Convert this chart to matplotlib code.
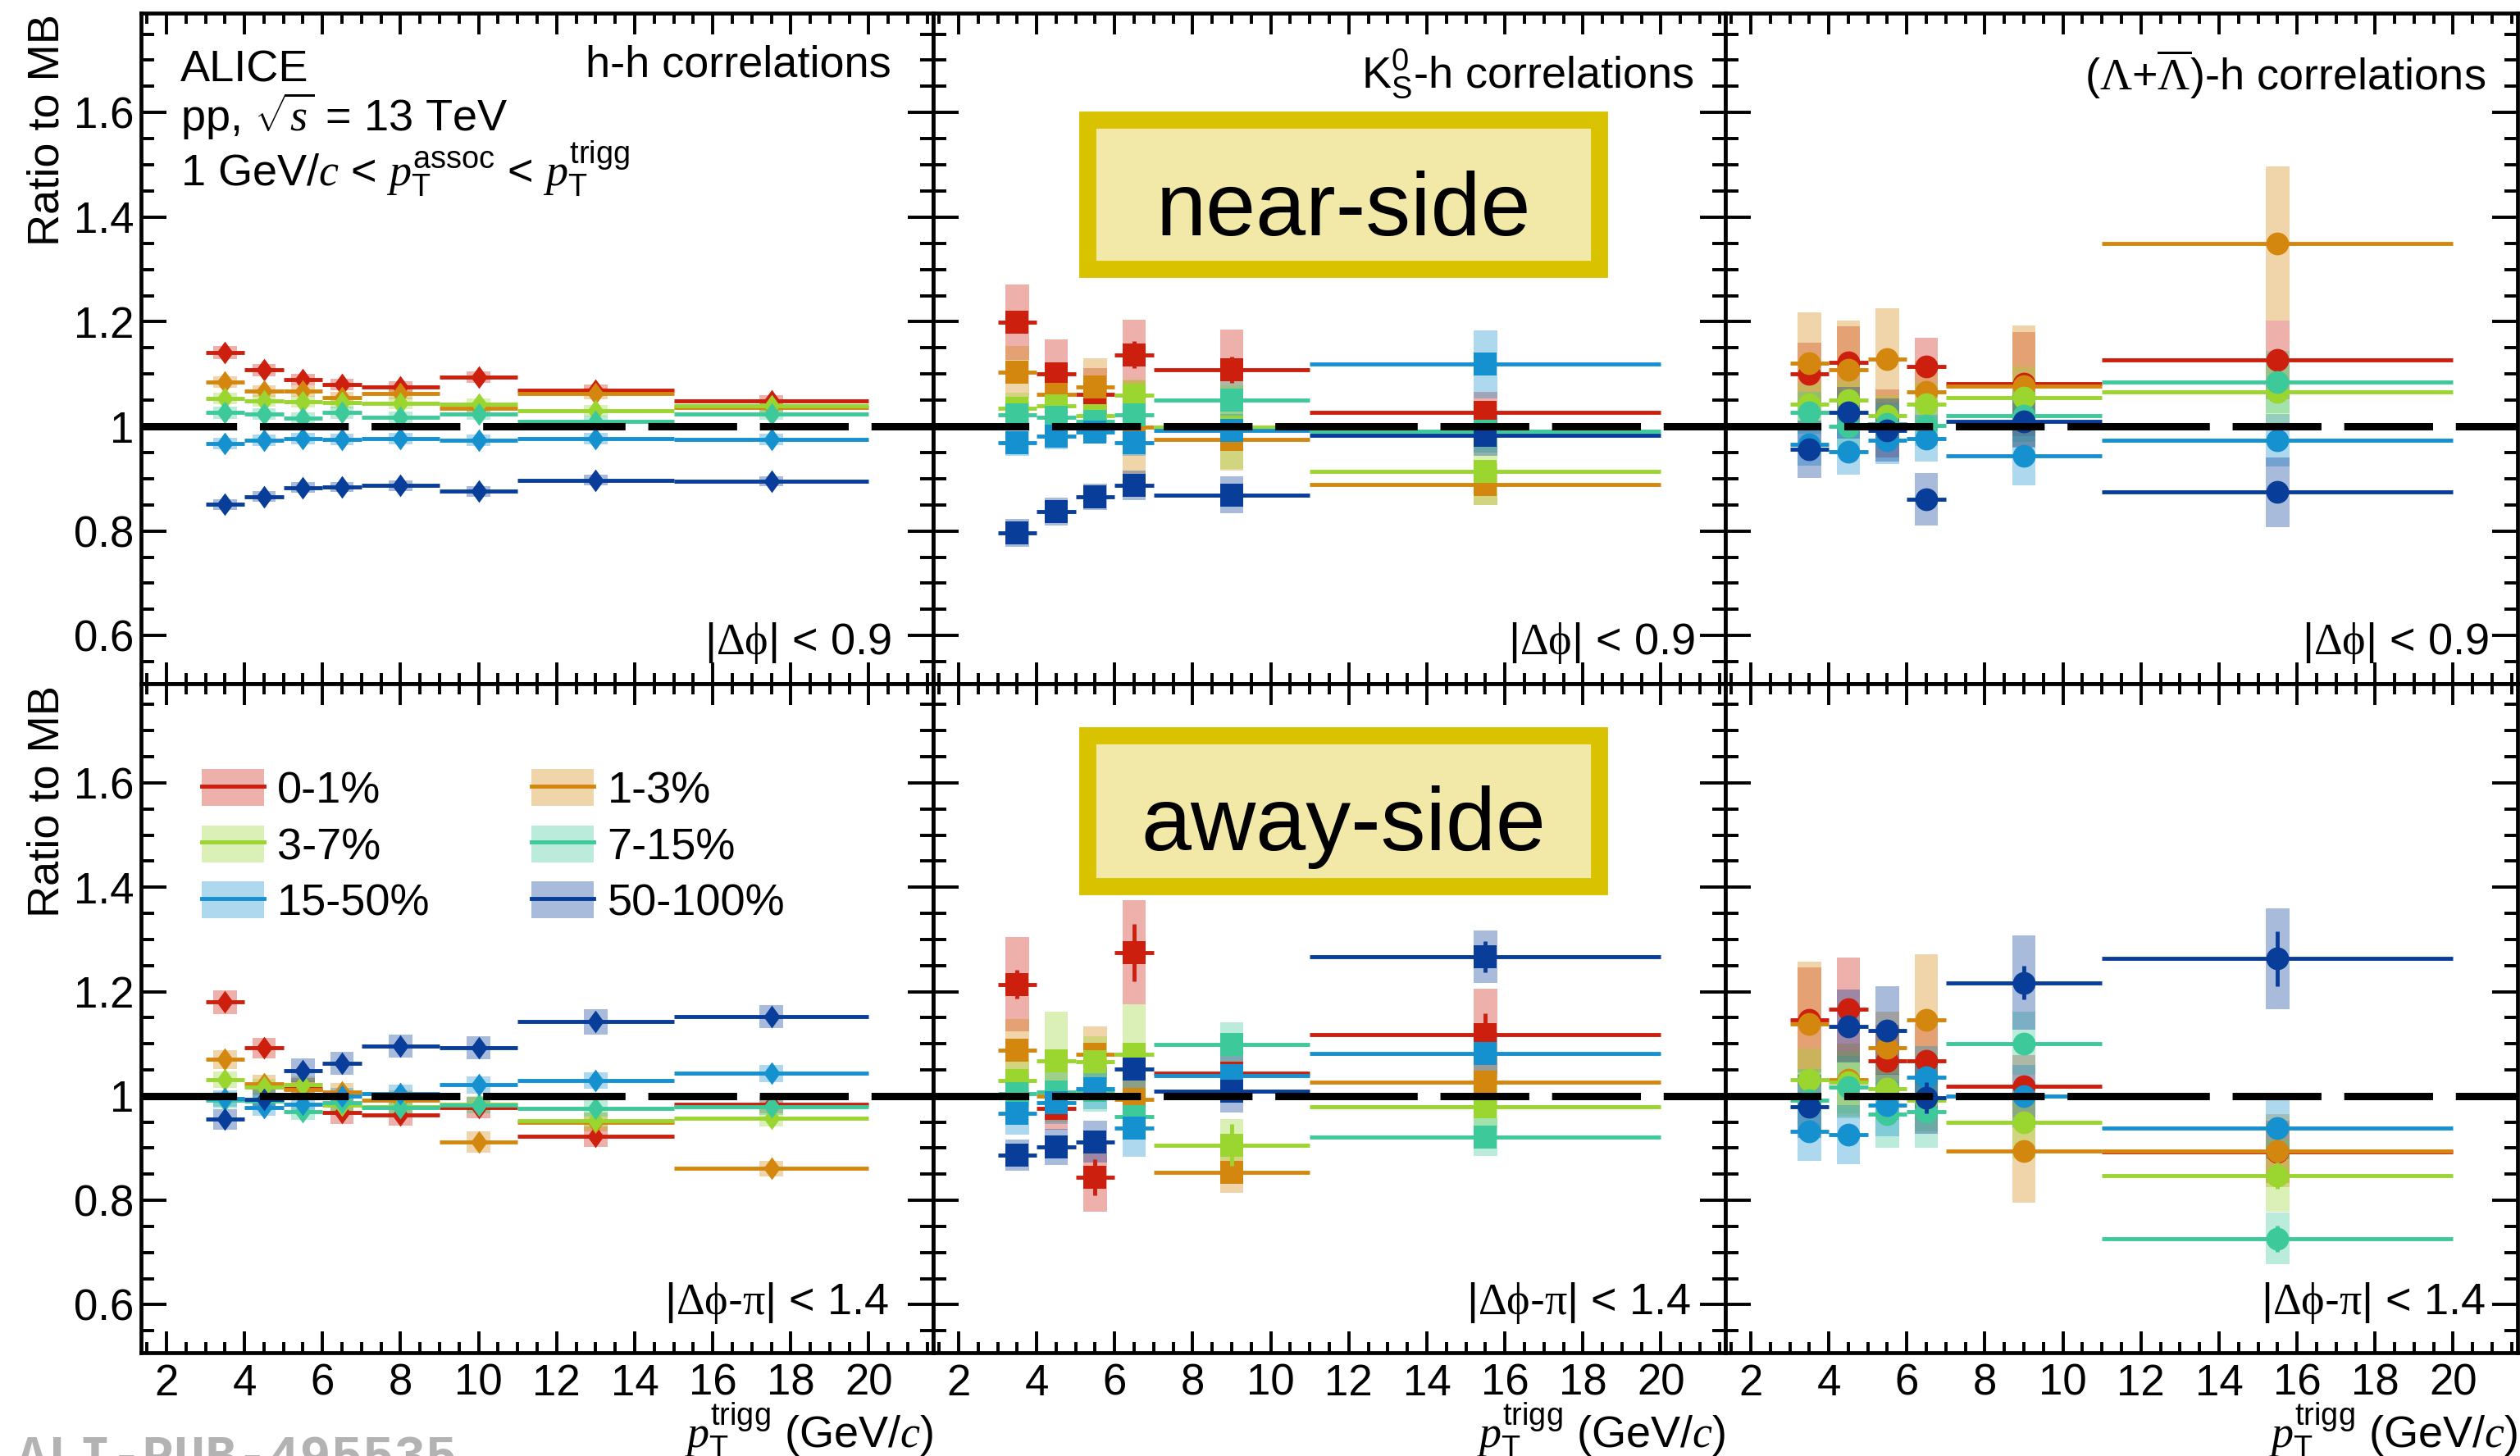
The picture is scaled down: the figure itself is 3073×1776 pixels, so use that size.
import matplotlib
matplotlib.use("Agg")
import numpy as np
import matplotlib.pyplot as plt
from matplotlib.patches import Rectangle, Patch
from matplotlib.lines import Line2D
from matplotlib.legend_handler import HandlerTuple
from matplotlib.ticker import MultipleLocator, FuncFormatter

plt.rcParams.update({
    "font.family": ["Liberation Sans", "DejaVu Sans"],
    "mathtext.fontset": "custom",
    "mathtext.rm": "Liberation Sans",
    "mathtext.it": "Liberation Serif:italic",
    "mathtext.sf": "Liberation Serif",
    "mathtext.bf": "Liberation Sans:bold",
    "lines.scale_dashes": False,
})

# ---------------------------------------------------------------- data
centralities = ["0-1%", "1-3%", "3-7%", "7-15%", "15-50%", "50-100%"]
line_colors = ["#cc1f0e", "#d4870e", "#9ad530", "#3dc99a", "#1591d0", "#083d99"]

hh_edges = [3, 4, 5, 6, 7, 9, 11, 15, 20]
v0_edges = [3, 4, 5, 6, 7, 11, 20]

# h-h, near side
hh_near = [
    [1.141, 1.108, 1.089, 1.080, 1.075, 1.094, 1.069, 1.049],
    [1.084, 1.067, 1.067, 1.055, 1.063, 1.034, 1.063, 1.036],
    [1.053, 1.049, 1.047, 1.045, 1.044, 1.043, 1.030, 1.040],
    [1.026, 1.024, 1.016, 1.026, 1.018, 1.024, 1.010, 1.024],
    [0.967, 0.973, 0.977, 0.975, 0.977, 0.973, 0.977, 0.975],
    [0.851, 0.866, 0.883, 0.884, 0.887, 0.876, 0.897, 0.895],
]
hh_near_syst = [
    [0.012, 0.012, 0.011, 0.011, 0.011, 0.011, 0.011, 0.011],
    [0.011, 0.011, 0.011, 0.011, 0.011, 0.011, 0.011, 0.011],
    [0.011, 0.011, 0.011, 0.011, 0.011, 0.011, 0.011, 0.011],
    [0.011, 0.011, 0.011, 0.011, 0.011, 0.011, 0.011, 0.011],
    [0.011, 0.011, 0.011, 0.011, 0.011, 0.011, 0.011, 0.011],
    [0.010, 0.010, 0.010, 0.010, 0.010, 0.010, 0.010, 0.010],
]
hh_near_stat = [
    [0.004, 0.004, 0.004, 0.004, 0.004, 0.005, 0.005, 0.006],
    [0.004, 0.004, 0.004, 0.004, 0.004, 0.005, 0.005, 0.006],
    [0.004, 0.004, 0.004, 0.004, 0.004, 0.005, 0.005, 0.006],
    [0.004, 0.004, 0.004, 0.004, 0.004, 0.005, 0.005, 0.006],
    [0.003, 0.003, 0.003, 0.003, 0.003, 0.004, 0.004, 0.005],
    [0.003, 0.003, 0.003, 0.003, 0.003, 0.004, 0.004, 0.005],
]

# h-h, away side
hh_away = [
    [1.180, 1.092, 1.014, 0.968, 0.963, 0.978, 0.922, 0.984],
    [1.070, 1.023, 1.012, 1.007, 0.992, 0.912, 0.950, 0.861],
    [1.031, 1.017, 1.021, 0.982, 0.980, 0.984, 0.953, 0.958],
    [0.992, 0.990, 0.970, 0.987, 0.978, 0.982, 0.976, 0.980],
    [0.995, 0.978, 0.984, 1.000, 1.005, 1.021, 1.030, 1.043],
    [0.955, 0.994, 1.049, 1.063, 1.095, 1.093, 1.142, 1.152],
]
hh_away_syst = [
    [0.023, 0.020, 0.020, 0.021, 0.020, 0.020, 0.020, 0.018],
    [0.018, 0.018, 0.018, 0.018, 0.018, 0.020, 0.018, 0.015],
    [0.016, 0.016, 0.016, 0.016, 0.016, 0.016, 0.016, 0.016],
    [0.016, 0.016, 0.016, 0.016, 0.016, 0.016, 0.016, 0.016],
    [0.016, 0.016, 0.016, 0.016, 0.016, 0.016, 0.016, 0.016],
    [0.020, 0.020, 0.023, 0.022, 0.022, 0.022, 0.025, 0.022],
]
hh_away_stat = [
    [0.006, 0.006, 0.006, 0.006, 0.006, 0.007, 0.008, 0.010],
    [0.006, 0.006, 0.006, 0.006, 0.006, 0.007, 0.008, 0.010],
    [0.006, 0.006, 0.006, 0.006, 0.006, 0.007, 0.008, 0.010],
    [0.006, 0.006, 0.006, 0.006, 0.006, 0.007, 0.008, 0.010],
    [0.005, 0.005, 0.005, 0.005, 0.005, 0.006, 0.007, 0.008],
    [0.005, 0.005, 0.005, 0.005, 0.005, 0.006, 0.007, 0.008],
]

# K0S-h, near side
k0s_near = [
    [1.199, 1.100, 1.062, 1.137, 1.108, 1.026],
    [1.103, 1.062, 1.075, 0.998, 0.975, 0.889],
    [1.035, 1.040, 1.020, 1.059, 0.998, 0.914],
    [1.022, 1.018, 1.010, 1.022, 1.050, 0.990],
    [0.969, 0.981, 0.989, 0.969, 0.993, 1.119],
    [0.796, 0.837, 0.866, 0.887, 0.869, 0.983],
]
k0s_near_syst = [
    [0.072, 0.066, 0.050, 0.067, 0.077, 0.040],
    [0.050, 0.040, 0.055, 0.090, 0.060, 0.040],
    [0.030, 0.030, 0.030, 0.030, 0.080, 0.065],
    [0.025, 0.025, 0.020, 0.025, 0.050, 0.040],
    [0.026, 0.025, 0.020, 0.026, 0.030, 0.065],
    [0.027, 0.027, 0.025, 0.028, 0.035, 0.040],
]
k0s_near_stat = [
    [0.015, 0.015, 0.015, 0.026, 0.025, 0.015],
    [0.010, 0.010, 0.010, 0.012, 0.012, 0.015],
    [0.010, 0.010, 0.010, 0.012, 0.012, 0.015],
    [0.010, 0.010, 0.010, 0.012, 0.012, 0.015],
    [0.008, 0.008, 0.008, 0.010, 0.010, 0.012],
    [0.008, 0.008, 0.008, 0.010, 0.010, 0.012],
]

# K0S-h, away side
k0s_away = [
    [1.214, 0.976, 0.844, 1.275, 1.044, 1.118],
    [1.087, 1.000, 1.080, 0.994, 0.854, 1.026],
    [1.030, 1.067, 1.065, 1.080, 0.906, 0.980],
    [1.004, 1.007, 1.010, 0.960, 1.098, 0.921],
    [0.966, 0.987, 1.014, 0.939, 1.039, 1.082],
    [0.887, 0.902, 0.912, 1.051, 1.009, 1.267],
]
k0s_away_syst = [
    [0.090, 0.040, 0.065, 0.100, 0.040, 0.087],
    [0.060, 0.050, 0.053, 0.050, 0.040, 0.050],
    [0.050, 0.095, 0.050, 0.095, 0.050, 0.050],
    [0.040, 0.040, 0.040, 0.040, 0.043, 0.036],
    [0.040, 0.040, 0.040, 0.055, 0.040, 0.040],
    [0.030, 0.035, 0.040, 0.040, 0.040, 0.050],
]
k0s_away_stat = [
    [0.028, 0.015, 0.035, 0.055, 0.020, 0.040],
    [0.015, 0.015, 0.015, 0.020, 0.020, 0.020],
    [0.015, 0.015, 0.015, 0.020, 0.040, 0.020],
    [0.015, 0.015, 0.015, 0.020, 0.020, 0.020],
    [0.012, 0.012, 0.012, 0.015, 0.015, 0.015],
    [0.012, 0.012, 0.012, 0.015, 0.020, 0.030],
]

# (Lambda+anti-Lambda)-h, near side
lam_near = [
    [1.100, 1.122, 1.005, 1.115, 1.081, 1.127],
    [1.121, 1.108, 1.129, 1.066, 1.077, 1.350],
    [1.043, 1.050, 1.020, 1.043, 1.055, 1.066],
    [1.026, 1.000, 1.005, 1.002, 1.020, 1.085],
    [0.965, 0.952, 0.973, 0.977, 0.944, 0.973],
    [0.956, 1.026, 0.993, 0.860, 1.010, 0.874],
]
lam_near_syst = [
    [0.060, 0.070, 0.065, 0.055, 0.100, 0.075],
    [0.097, 0.095, 0.097, 0.060, 0.116, 0.147],
    [0.040, 0.040, 0.040, 0.040, 0.060, 0.060],
    [0.040, 0.040, 0.040, 0.040, 0.050, 0.060],
    [0.040, 0.045, 0.045, 0.045, 0.057, 0.050],
    [0.055, 0.050, 0.060, 0.050, 0.050, 0.067],
]
lam_near_stat = [
    [0.015, 0.015, 0.015, 0.015, 0.015, 0.020],
    [0.015, 0.015, 0.015, 0.015, 0.015, 0.020],
    [0.015, 0.015, 0.015, 0.015, 0.015, 0.020],
    [0.015, 0.015, 0.015, 0.015, 0.015, 0.020],
    [0.012, 0.012, 0.012, 0.012, 0.012, 0.015],
    [0.012, 0.012, 0.012, 0.012, 0.012, 0.015],
]

# (Lambda+anti-Lambda)-h, away side
lam_away = [
    [1.146, 1.166, 1.067, 1.068, 1.019, 0.893],
    [1.138, 1.031, 1.092, 1.146, 0.895, 0.895],
    [1.031, 1.026, 1.014, 0.992, 0.950, 0.848],
    [0.992, 1.017, 0.965, 0.970, 1.101, 0.727],
    [0.932, 0.926, 0.982, 1.036, 1.000, 0.939],
    [0.980, 1.134, 1.126, 0.997, 1.217, 1.263],
]
lam_away_syst = [
    [0.100, 0.100, 0.070, 0.070, 0.060, 0.060],
    [0.120, 0.070, 0.070, 0.125, 0.100, 0.070],
    [0.060, 0.060, 0.060, 0.060, 0.070, 0.070],
    [0.060, 0.060, 0.065, 0.070, 0.060, 0.050],
    [0.057, 0.056, 0.060, 0.060, 0.060, 0.060],
    [0.060, 0.070, 0.085, 0.070, 0.090, 0.096],
]
lam_away_stat = [
    [0.020, 0.020, 0.020, 0.020, 0.020, 0.025],
    [0.020, 0.020, 0.020, 0.020, 0.020, 0.025],
    [0.020, 0.020, 0.020, 0.020, 0.020, 0.025],
    [0.020, 0.020, 0.020, 0.020, 0.020, 0.025],
    [0.015, 0.015, 0.015, 0.015, 0.015, 0.020],
    [0.015, 0.015, 0.015, 0.030, 0.032, 0.052],
]

y_ticks = [0.6, 0.8, 1.0, 1.2, 1.4, 1.6]

# ---------------------------------------------------------------- style
FS = 39
W, H = 3073, 1776
fig = plt.figure(figsize=(W / 100, H / 100), dpi=100)

PANEL_X0, PANEL_W = 172, 966
ROWS = {"top": (16, 834), "bottom": (834, 1650)}

# custom thin diamond (ROOT-like)
diamond = [(0, 1), (0.73, 0), (0, -1), (-0.73, 0), (0, 1)]
MARKERS = {"hh": (diamond, 20), "k0s": ("s", 20), "lam": ("o", 20)}

# dash pattern of the unity reference line (points)
DASH = [84, 20, 78, 20, 78, 20, 125, 20, 78, 20, 78, 20, 78, 20, 78, 20]


def make_axes(col, row):
    top, bot = ROWS[row]
    x0 = PANEL_X0 + col * PANEL_W
    return fig.add_axes([x0 / W, 1 - bot / H, PANEL_W / W, (bot - top) / H])


def style_axes(ax, show_x, show_y):
    ax.set_xlim(1.35, 21.65)
    ax.set_ylim(0.508, 1.79)
    ax.xaxis.set_major_locator(MultipleLocator(2))
    ax.xaxis.set_minor_locator(MultipleLocator(0.5))
    ax.set_yticks(y_ticks)
    ax.yaxis.set_minor_locator(MultipleLocator(0.05))
    ax.yaxis.set_major_formatter(FuncFormatter(lambda v, p: "%g" % round(v, 2)))
    ax.tick_params(which="both", direction="in", top=True, right=True,
                   width=2.8, labelsize=38)
    ax.tick_params(axis="y", which="major", length=22, pad=6)
    ax.tick_params(axis="y", which="minor", length=11.5)
    ax.tick_params(axis="x", which="major", length=19, pad=9)
    ax.tick_params(axis="x", which="minor", length=9.5)
    ax.tick_params(labelbottom=show_x, labelleft=show_y)
    for s in ax.spines.values():
        s.set_linewidth(3.4)


def draw_panel(ax, edges, vals, syst, stat, kind):
    edges = np.asarray(edges, dtype=float)
    xc = 0.5 * (edges[:-1] + edges[1:])
    half = 0.5 * (edges[1:] - edges[:-1])
    marker, ms = MARKERS[kind]
    for i, c in enumerate(line_colors):
        v = np.asarray(vals[i])
        s = np.asarray(syst[i])
        ax.bar(xc, 2 * s, bottom=v - s, width=0.6, color=c, alpha=0.35,
               linewidth=0, zorder=1)
    for i, c in enumerate(line_colors):
        ax.errorbar(xc, vals[i], xerr=half, yerr=stat[i], fmt="none",
                    ecolor=c, elinewidth=3.5, capsize=0, zorder=2 + i)
        ax.plot(xc, vals[i], linestyle="none", marker=marker, ms=ms,
                color=c, mew=0, zorder=2.5 + i)
    ax.axhline(1.0, color="black", lw=6.5, dashes=DASH, zorder=20)


panels = [
    ("top", 0, hh_edges, hh_near, hh_near_syst, hh_near_stat, "hh"),
    ("top", 1, v0_edges, k0s_near, k0s_near_syst, k0s_near_stat, "k0s"),
    ("top", 2, v0_edges, lam_near, lam_near_syst, lam_near_stat, "lam"),
    ("bottom", 0, hh_edges, hh_away, hh_away_syst, hh_away_stat, "hh"),
    ("bottom", 1, v0_edges, k0s_away, k0s_away_syst, k0s_away_stat, "k0s"),
    ("bottom", 2, v0_edges, lam_away, lam_away_syst, lam_away_stat, "lam"),
]

axes = {}
for row, col, edges, vals, syst, stat, kind in panels:
    ax = make_axes(col, row)
    style_axes(ax, show_x=(row == "bottom"), show_y=(col == 0))
    draw_panel(ax, edges, vals, syst, stat, kind)
    axes[(row, col)] = ax

# ---------------------------------------------------------------- texts
a = axes[("top", 0)]
a.text(0.0497, 0.8985, "ALICE", transform=a.transAxes, fontsize=FS, va="baseline")
a.text(0.0497, 0.824, r"pp, $\sqrt{s}$ = 13 TeV", transform=a.transAxes,
       fontsize=FS, va="baseline")
a.text(0.0497, 0.741,
       r"1 GeV/$c$ < $p_{\mathrm{T}}^{\mathrm{assoc}}$ < $p_{\mathrm{T}}^{\mathrm{trigg}}$",
       transform=a.transAxes, fontsize=FS, va="baseline")

titles = [
    (0, "h-h correlations", 0.947, 0.905),
    (1, r"$\mathrm{K}^{0}_{\mathrm{S}}$-h correlations", 0.9607, 0.889),
    (2, r"($\mathsf{\Lambda}$+$\overline{\mathsf{\Lambda}}$)-h correlations", 0.9596, 0.885),
]
for col, t, xr, yb in titles:
    ax = axes[("top", col)]
    ax.text(xr, yb, t, transform=ax.transAxes, fontsize=FS, ha="right", va="baseline")

near_x = [0.947, 0.961, 0.963]
away_x = [0.944, 0.9565, 0.9596]
for col in range(3):
    ax = axes[("top", col)]
    ax.text(near_x[col], 0.0445, r"|$\mathsf{\Delta\phi}$| < 0.9", transform=ax.transAxes,
            fontsize=FS, ha="right", va="baseline")
    ax = axes[("bottom", col)]
    ax.text(away_x[col], 0.058, r"|$\mathsf{\Delta\phi}$-$\mathsf{\pi}$| < 1.4",
            transform=ax.transAxes, fontsize=FS, ha="right", va="baseline")
    ax.text(1.0, -0.143, r"$p_{\mathrm{T}}^{\mathrm{trigg}}$ (GeV/$c$)",
            transform=ax.transAxes, fontsize=FS, ha="right", va="baseline")

for top in (17, 836):
    fig.text(57 / W, 1 - top / H, "Ratio to MB", rotation=90, fontsize=FS,
             ha="center", va="top")

# legend in the lower-left panel
order = [0, 2, 4, 1, 3, 5]
handles = [(Patch(facecolor=line_colors[i], alpha=0.35, linewidth=0),
            Line2D([], [], color=line_colors[i], lw=3.5)) for i in order]
labels = [centralities[i] for i in order]
axes[("bottom", 0)].legend(
    handles, labels, ncol=2, loc="upper left", bbox_to_anchor=(0.0763, 0.872),
    frameon=False, fontsize=FS, handlelength=1.4, handleheight=0.9,
    handletextpad=0.3, columnspacing=2.29, labelspacing=0.3, borderpad=0,
    borderaxespad=0, handler_map={tuple: HandlerTuple(ndivide=1)})

# highlighted region labels
for (y_top, y_bot, label, base) in [(136, 339, "near-side", 287),
                                    (887, 1091, "away-side", 1036.5)]:
    x_l, x_r = 1315 + 10.5, 1960 - 10.5
    yt, yb = y_top + 10.5, y_bot - 10.5
    fig.add_artist(Rectangle((x_l / W, 1 - yb / H), (x_r - x_l) / W, (yb - yt) / H,
                             transform=fig.transFigure, facecolor="#f2e9a8",
                             edgecolor="#d9c200", linewidth=15, zorder=30))
    fig.text(1638 / W, 1 - base / H, label, fontsize=79, ha="center",
             va="baseline", zorder=31)

fig.text(20 / W, 1 - 1796 / H, "ALI-PUB-495535", fontsize=46, color="#b3b3b3",
         family="Liberation Mono", weight="bold", va="baseline")

fig.savefig("out.png", dpi=100)
